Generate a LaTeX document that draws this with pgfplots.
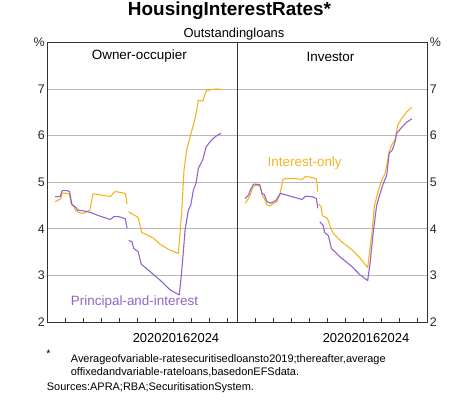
\documentclass[border=0pt]{standalone}
\usepackage{fontspec}
\setmainfont{Liberation Sans}
\usepackage{pgfplots}
\pgfplotsset{compat=1.18}
\definecolor{ioc}{HTML}{F5B324}
\definecolor{pic}{HTML}{9263C9}
\pgfplotsset{
 panel/.style={
  anchor=south west, scale only axis, width=190bp, height=279.6bp,
  xmin=2015, xmax=2025.55, ymin=2, ymax=8,
  xtick={2016,...,2025}, xticklabels={},
  xtick pos=bottom, tick align=inside, major tick length=4.5bp,
  x tick style={black!80, line width=0.8pt},
  y tick style={draw=none},
  ytick={2,...,8}, yticklabels={2,3,4,5,6,7,\%},
  ymajorgrids, grid style={black!28, line width=0.8pt},
  axis line style={black!80, line width=0.8pt},
  tick label style={font=\fontsize{12.5}{14}\selectfont, text=black!85},
  /pgf/number format/assume math mode=true,
  every axis plot/.append style={line width=1.1pt, mark=none, line join=round},
 }}
\begin{document}
\begin{tikzpicture}[x=1bp,y=1bp]
\useasboundingbox (0,0) rectangle (474,400);
\begin{axis}[panel, at={(47.3bp,78bp)}, ytick pos=left, yticklabel style={xshift=1bp}]
\addplot[ioc] coordinates {(2015.44,4.58)(2015.63,4.62)(2015.76,4.65)(2015.82,4.77)(2016.09,4.76)(2016.22,4.75)(2016.32,4.55)(2016.43,4.51)(2016.56,4.40)(2016.74,4.35)(2017.02,4.33)(2017.2,4.37)(2017.36,4.40)(2017.54,4.75)(2017.95,4.73)(2018.5,4.69)(2018.65,4.76)(2018.78,4.80)(2019.06,4.78)(2019.33,4.76)(2019.43,4.53)};
\addplot[ioc] coordinates {(2019.52,4.37)(2019.7,4.32)(2019.94,4.27)(2020.05,4.24)(2020.24,3.92)(2020.52,3.87)(2020.89,3.80)(2021.26,3.67)(2021.72,3.56)(2022.28,3.47)(2022.47,4.40)(2022.59,5.26)(2022.74,5.69)(2022.93,5.98)(2023.11,6.23)(2023.21,6.37)(2023.39,6.76)(2023.63,6.74)(2023.82,6.96)(2024.13,6.99)(2024.41,7.0)(2024.69,6.99)};
\addplot[pic] coordinates {(2015.44,4.69)(2015.72,4.69)(2015.82,4.82)(2016.09,4.82)(2016.24,4.80)(2016.37,4.51)(2016.56,4.47)(2016.69,4.40)(2016.93,4.39)(2017.2,4.37)(2017.39,4.35)(2017.94,4.27)(2018.5,4.20)(2018.69,4.26)(2018.97,4.26)(2019.33,4.22)(2019.43,4.01)};
\addplot[pic] coordinates {(2019.52,3.75)(2019.7,3.72)(2019.8,3.58)(2020.04,3.51)(2020.22,3.24)(2020.71,3.08)(2021.26,2.90)(2021.82,2.69)(2022.33,2.58)(2022.47,3.12)(2022.65,3.97)(2022.83,4.40)(2022.97,4.51)(2023.11,4.83)(2023.26,4.98)(2023.39,5.30)(2023.63,5.48)(2023.82,5.76)(2024.13,5.91)(2024.41,6.0)(2024.65,6.05)};
\end{axis}
\begin{axis}[panel, at={(237.3bp,78bp)}, ytick pos=right, yticklabel pos=right, yticklabel style={xshift=-1bp}]
\addplot[ioc] coordinates {(2015.44,4.55)(2015.58,4.63)(2015.72,4.73)(2015.87,4.90)(2016.0,4.93)(2016.28,4.92)(2016.37,4.73)(2016.5,4.65)(2016.65,4.51)(2016.83,4.49)(2017.02,4.55)(2017.2,4.58)(2017.36,4.73)(2017.54,5.06)(2017.67,5.08)(2018.13,5.08)(2018.6,5.06)(2018.78,5.12)(2019.06,5.11)(2019.39,5.07)(2019.47,4.80)};
\addplot[ioc] coordinates {(2019.52,4.53)(2019.66,4.47)(2019.72,4.28)(2020.0,4.23)(2020.15,4.05)(2020.33,3.90)(2020.8,3.72)(2021.36,3.55)(2021.82,3.37)(2022.24,3.17)(2022.47,3.90)(2022.62,4.51)(2022.84,4.83)(2023.02,5.05)(2023.21,5.19)(2023.43,5.65)(2023.61,5.83)(2023.76,5.91)(2023.91,6.23)(2024.13,6.37)(2024.41,6.51)(2024.69,6.61)};
\addplot[pic] coordinates {(2015.44,4.65)(2015.63,4.73)(2015.72,4.83)(2015.91,4.96)(2016.24,4.95)(2016.37,4.76)(2016.5,4.73)(2016.65,4.58)(2016.83,4.55)(2017.02,4.58)(2017.17,4.62)(2017.39,4.76)(2017.94,4.70)(2018.6,4.63)(2018.78,4.70)(2019.15,4.69)(2019.39,4.65)(2019.47,4.44)};
\addplot[pic] coordinates {(2019.58,4.15)(2019.76,4.08)(2019.85,3.92)(2020.06,3.85)(2020.22,3.58)(2020.7,3.40)(2021.36,3.19)(2021.82,3.01)(2022.24,2.89)(2022.37,3.26)(2022.56,3.97)(2022.74,4.51)(2022.93,4.76)(2023.11,4.98)(2023.3,5.15)(2023.43,5.62)(2023.61,5.69)(2023.76,5.87)(2023.85,6.05)(2024.09,6.16)(2024.41,6.29)(2024.69,6.36)};
\end{axis}
\node[font=\fontsize{19}{22}\selectfont\bfseries] at (229.5,389) {HousingInterestRates*};
\node[font=\fontsize{13}{15}\selectfont] at (234,366) {Outstandingloans};
\node[font=\fontsize{13.5}{15}\selectfont] at (139.3,343.5) {Owner-occupier};
\node[font=\fontsize{13.5}{15}\selectfont] at (330.5,343.5) {Investor};
\node[font=\fontsize{13.5}{15}\selectfont, text=ioc] at (304.7,237) {Interest-only};
\node[font=\fontsize{13.5}{15}\selectfont, text=pic] at (134.5,97.5) {Principal-and-interest};
\node[font=\fontsize{13}{15}\selectfont] at (176,62) {202020162024};
\node[font=\fontsize{13}{15}\selectfont] at (366,62) {202020162024};
\node[font=\fontsize{11}{12}\selectfont] at (48.5,46) {*};
\node[font=\fontsize{11}{12}\selectfont, anchor=north west, align=left, inner sep=0pt] at (70.7,45.5) {Averageofvariable-ratesecuritisedloansto2019;thereafter,average\\[0.5pt]offixedandvariable-rateloans,basedonEFSdata.};
\node[font=\fontsize{11}{12}\selectfont, anchor=west, inner sep=0pt] at (46.7,12.5) {Sources:APRA;RBA;SecuritisationSystem.};
\end{tikzpicture}
\end{document}
